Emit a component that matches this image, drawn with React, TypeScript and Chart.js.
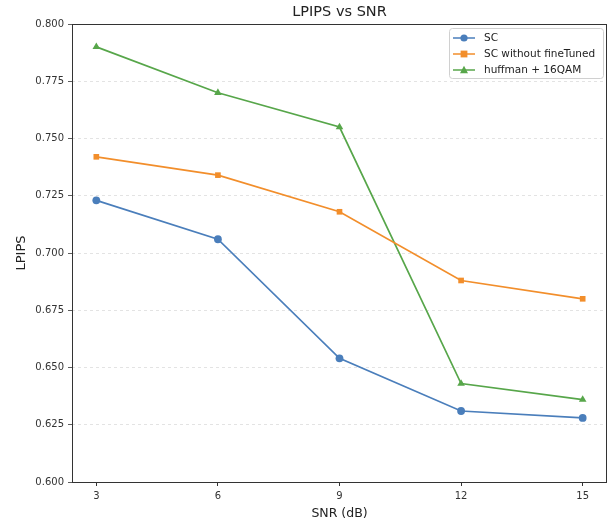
import React, { useEffect, useRef } from "react";
import { Chart, registerables } from "chart.js";

Chart.register(...registerables);

const snr = [3, 6, 9, 12, 15];
const scValues = [0.723, 0.706, 0.654, 0.631, 0.628];
const scNoFtValues = [0.742, 0.734, 0.718, 0.688, 0.68];
const huffmanValues = [0.79, 0.77, 0.755, 0.643, 0.636];
const seriesNames = ["SC", "SC without fineTuned", "huffman + 16QAM"];
const seriesColors = ["#4a7ebb", "#f28e2b", "#57a64a"];
const seriesMarkers = ["circle", "rect", "triangle"];
const yTicks = [0.6, 0.625, 0.65, 0.675, 0.7, 0.725, 0.75, 0.775, 0.8];

const FONT = "'DejaVu Sans', sans-serif";

export default function App() {
  const ref = useRef<HTMLCanvasElement>(null);
  useEffect(() => {
    document.body.style.margin = "0";
    const ctx = ref.current!.getContext("2d")!;
    const allData = [scValues, scNoFtValues, huffmanValues];

    const drawMarker = (c: CanvasRenderingContext2D, kind: string, x: number, y: number, color: string) => {
      c.save();
      c.fillStyle = color;
      c.beginPath();
      if (kind === "circle") {
        c.arc(x, y, 3.6, 0, Math.PI * 2);
      } else if (kind === "rect") {
        c.rect(x - 3.4, y - 3.4, 6.8, 6.8);
      } else {
        c.moveTo(x, y - 4.2);
        c.lineTo(x + 4, y + 3.2);
        c.lineTo(x - 4, y + 3.2);
        c.closePath();
      }
      c.fill();
      c.restore();
    };

    const framePlugin = {
      id: "frameAndLegend",
      afterDraw(chart: any) {
        const c = chart.ctx as CanvasRenderingContext2D;
        const a = chart.chartArea;
        c.save();
        c.strokeStyle = "#333333";
        c.lineWidth = 1;
        c.strokeRect(Math.round(a.left) + 0.5, Math.round(a.top) + 0.5, Math.round(a.right - a.left) - 1, Math.round(a.bottom - a.top));
        c.fillStyle = "#222222";
        c.font = `14.5px ${FONT}`;
        c.textAlign = "center";
        c.textBaseline = "middle";
        c.fillText("LPIPS vs SNR", (a.left + a.right) / 2, 12);
        const bx = 449.5, by = 28.5, bw = 154, bh = 50;
        c.fillStyle = "rgba(255,255,255,0.8)";
        c.strokeStyle = "#d0d0d0";
        c.beginPath();
        c.roundRect(bx, by, bw, bh, 3);
        c.fill();
        c.stroke();
        c.font = `10.5px ${FONT}`;
        c.textAlign = "left";
        c.textBaseline = "middle";
        for (let i = 0; i < seriesNames.length; i++) {
          const y = 38 + i * 16;
          c.strokeStyle = seriesColors[i];
          c.lineWidth = 1.5;
          c.beginPath();
          c.moveTo(453, y);
          c.lineTo(475, y);
          c.stroke();
          drawMarker(c, seriesMarkers[i], 464, y, seriesColors[i]);
          c.fillStyle = "#222222";
          c.fillText(seriesNames[i], 484, y + 0.5);
        }
        c.restore();
      },
    };

    const chart = new Chart(ctx, {
      type: "line",
      data: {
        datasets: allData.map((vals, i) => ({
          label: seriesNames[i],
          data: vals.map((v, j) => ({ x: snr[j], y: v })),
          borderColor: seriesColors[i],
          backgroundColor: seriesColors[i],
          borderWidth: 1.7,
          pointStyle: seriesMarkers[i] as any,
          pointRadius: seriesMarkers[i] === "triangle" ? 4.4 : seriesMarkers[i] === "rect" ? 4 : 3.9,
          pointBorderWidth: 0,
          tension: 0,
        })),
      },
      plugins: [framePlugin],
      options: {
        animation: false,
        responsive: false,
        layout: { autoPadding: false, padding: { top: 24, right: 0, left: 14, bottom: 0 } },
        plugins: {
          legend: { display: false },
          title: { display: false },
          tooltip: { enabled: false },
        },
        scales: {
          x: {
            type: "linear",
            min: 2.4,
            max: 15.6,
            afterBuildTicks: (scale: any) => {
              scale.ticks = snr.map((v) => ({ value: v }));
            },
            afterFit: (scale: any) => {
              scale.height = 39;
              scale.paddingRight = 0;
              scale.paddingLeft = 0;
            },
            grid: {
              drawOnChartArea: false,
              drawTicks: true,
              tickLength: 4,
              tickColor: "#333333",
            },
            border: { display: false },
            ticks: {
              color: "#333333",
              font: { family: FONT, size: 10 },
              padding: 4,
              maxRotation: 0,
              callback: (v: any) => String(v),
            },
            title: {
              display: true,
              text: "SNR (dB)",
              color: "#222222",
              font: { family: FONT, size: 12.5 },
              padding: { top: 0, bottom: 0 },
            },
          },
          y: {
            min: 0.6,
            max: 0.8,
            afterBuildTicks: (scale: any) => {
              scale.ticks = yTicks.map((v) => ({ value: v }));
            },
            afterFit: (scale: any) => {
              scale.width = 58;
            },
            grid: {
              color: "#dcdcdc",
              borderDash: [3, 3],
              tickBorderDash: [],
              drawTicks: true,
              tickLength: 4,
              tickColor: "#333333",
              lineWidth: 0.8,
            } as any,
            border: { display: false, dash: [3, 3] },
            ticks: {
              color: "#333333",
              font: { family: FONT, size: 10 },
              padding: 4,
              callback: (v: any) => Number(v).toFixed(3),
            },
            title: {
              display: true,
              text: "LPIPS",
              color: "#222222",
              font: { family: FONT, size: 13 },
              padding: { top: 0, bottom: 0 },
            },
          },
        },
      },
    });
    return () => chart.destroy();
  }, []);
  return (
    <div style={{ width: 607, height: 521 }}>
      <canvas ref={ref} width={607} height={521} style={{ display: "block" }} />
    </div>
  );
}
